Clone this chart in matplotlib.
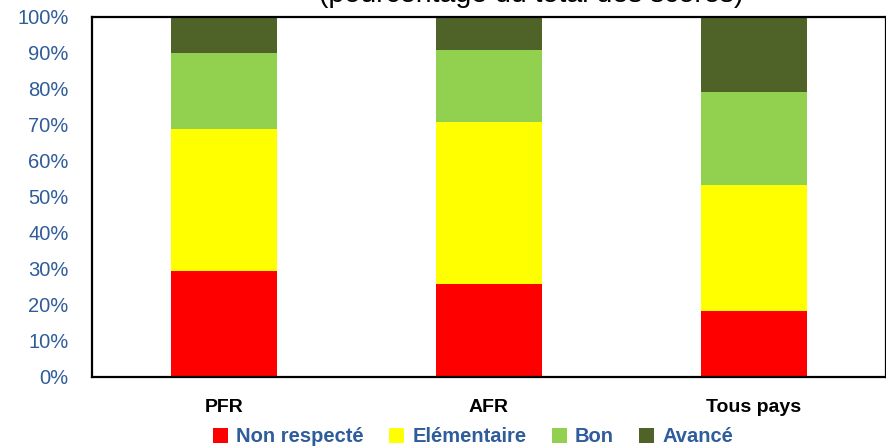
import numpy as np
import matplotlib
matplotlib.use('Agg')
import matplotlib.pyplot as plt
from matplotlib.patches import Patch

# share of scores by level, in %
groups = ['PFR', 'AFR', 'Tous pays']
levels = ['Non respecté', 'Elémentaire', 'Bon', 'Avancé']
non_respecte = [29.5, 25.8, 18.3]
elementaire = [39.5, 44.9, 35.0]
bon = [21.0, 20.1, 26.0]
avance = [10.0, 9.2, 20.7]

colors = ['#FF0000', '#FFFF00', '#92D050', '#4F6228']
blue = '#2F5C9A'

plt.rcParams['font.family'] = ['Liberation Sans', 'DejaVu Sans']

fig = plt.figure(figsize=(8.87, 4.47), dpi=100)
ax = fig.add_axes([92 / 887, 70 / 447, 794 / 887, 360 / 447])

x = np.arange(len(groups))
bottom = np.zeros(len(groups))
for vals, c in zip([non_respecte, elementaire, bon, avance], colors):
    ax.bar(x, vals, width=0.4, bottom=bottom, color=c, edgecolor='none')
    bottom += np.array(vals)

ax.set_xlim(-0.5, 2.5)
ax.set_ylim(0, 100)
ax.set_yticks(np.arange(0, 101, 10))
ax.set_yticklabels([f'{v}%' for v in range(0, 101, 10)], color=blue, fontsize=14.5)
ax.set_xticks(x)
ax.set_xticklabels(groups, fontsize=14, fontweight='bold')
ax.tick_params(axis='both', length=0)
ax.tick_params(axis='y', pad=17)
ax.tick_params(axis='x', pad=16)
for s in ax.spines.values():
    s.set_linewidth(1.6)
    s.set_color('black')

# title sits mostly above the canvas
fig.text(531 / 887, 1 - 1.5 / 447, '(pourcentage du total des scores)', ha='center',
         va='baseline', fontsize=20.5)

handles = [Patch(facecolor=c, edgecolor='none') for c in colors]
leg = fig.legend(handles, levels, loc='center', bbox_to_anchor=(473 / 887, 1 - 437 / 447),
                 ncol=4, frameon=False, handlelength=0.75, handleheight=0.75,
                 handletextpad=0.4, columnspacing=1.25,
                 prop={'weight': 'bold', 'size': 14.5})
for t in leg.get_texts():
    t.set_color(blue)

fig.savefig('out.png', dpi=100)
